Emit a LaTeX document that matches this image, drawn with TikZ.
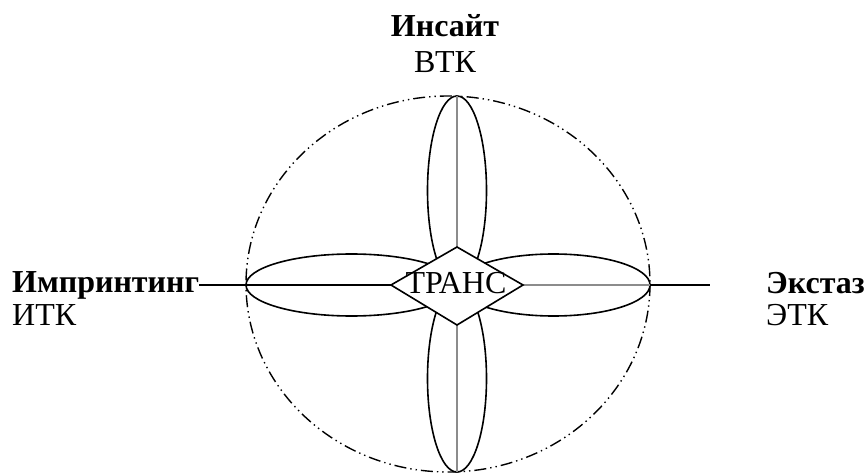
\documentclass[tikz,border=0pt]{standalone}
\usepackage{fontspec}
\setmainfont{Liberation Serif}
\definecolor{axisgray}{RGB}{140,140,140}
\begin{document}
\begin{tikzpicture}[x=1pt,y=-1pt,
  outer/.style={draw=black,line width=1.4pt,dash pattern=on 12pt off 4pt on 1.4pt off 4pt on 1.4pt off 4pt},
  petal/.style={draw=black,line width=1.6pt},
  axisline/.style={draw=axisgray,line width=1.6pt},
  blkline/.style={draw=black,line width=1.6pt},
  lbl/.style={inner sep=0pt,font=\fontsize{32}{34}\selectfont},
  blbl/.style={lbl,font=\fontsize{32}{34}\selectfont\bfseries}]
\useasboundingbox (0,0) rectangle (867,473);
\coordinate (O) at (457,285);
% outer ellipse
\draw[outer] (448,284) ellipse [x radius=202, y radius=188];
% petals
\draw[petal] (457,190.5) ellipse [x radius=29.5, y radius=94.5];
\draw[petal] (457,378.5) ellipse [x radius=29.5, y radius=93.5];
\draw[petal] (351.5,285) ellipse [x radius=105.5, y radius=31];
\draw[petal] (553.5,285) ellipse [x radius=96.5, y radius=31];
% axes
\coordinate (T) at (457,96);
\coordinate (B) at (457,472);
\coordinate (E) at (650,285);
\coordinate (R) at (710,285);
\draw[axisline] (T) -- (B);
\draw[axisline] (O) -- (E);
\draw[blkline] (E) -- (R);
% labels
\node[blbl,anchor=base west] (imp) at (12,292) {Импринтинг};
\node[lbl,anchor=base west] (itk) at (12,325) {ИТК};
\node[blbl,anchor=base west] (eks) at (766,293) {Экстаз};
\node[lbl,anchor=base west] (etk) at (766,325) {ЭТК};
\node[blbl,anchor=base] (ins) at (445,37) {Инсайт};
\node[lbl,anchor=base] (vtk) at (445,73) {ВТК};
\coordinate (L) at (imp.east |- O);
\draw[blkline] (L) -- (O);
% diamond
\filldraw[fill=white,draw=black,line width=1.6pt,shift={(O)}] (-66,0) -- (0,-38) -- (66,0) -- (0,40) -- cycle;
\node[lbl,anchor=base] (trans) at (456,293) {ТРАНС};
\end{tikzpicture}
\end{document}
